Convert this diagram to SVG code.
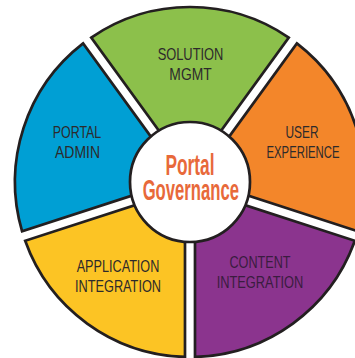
<svg xmlns="http://www.w3.org/2000/svg" width="355" height="358" viewBox="0 0 355 358">
<style>
.seg{stroke:#231f20;stroke-width:2.7;stroke-linejoin:miter}
.lbl{font-family:"Liberation Sans Narrow","Liberation Sans",Arial,sans-serif;font-size:16.5px;fill:#2d2a2b;text-anchor:middle}
.lbl.dk{fill:#3a1c3f}
.title{font-family:"Liberation Sans Narrow","Liberation Sans",Arial,sans-serif;font-weight:bold;font-size:29px;fill:#e8693a;text-anchor:middle}
.hub{fill:#ffffff;stroke:#231f20;stroke-width:2.7}
</style>
<defs>
<path id="wedge" d="M0,-8.5 L-98.77,-144.46 A175,175 0 0 1 98.77,-144.46 Z"/>
</defs>
<rect width="355" height="358" fill="#ffffff"/>
<g id="solution-mgmt">
<use href="#wedge" class="seg" fill="#8cc04b" transform="translate(190,182)"/>
<text class="lbl" x="190.5" y="59.5" textLength="65.7" lengthAdjust="spacingAndGlyphs">SOLUTION</text>
<text class="lbl" x="190.5" y="80" textLength="42.3" lengthAdjust="spacingAndGlyphs">MGMT</text>
</g>
<g id="user-experience">
<use href="#wedge" class="seg" fill="#f3862a" transform="translate(190,182) rotate(72)"/>
<text class="lbl" x="302" y="138" textLength="33" lengthAdjust="spacingAndGlyphs">USER</text>
<text class="lbl" x="303" y="158" textLength="73" lengthAdjust="spacingAndGlyphs">EXPERIENCE</text>
</g>
<g id="content-integration">
<use href="#wedge" class="seg" fill="#8b348e" transform="translate(190,182) rotate(144)"/>
<text class="lbl dk" x="260" y="267.5" textLength="61" lengthAdjust="spacingAndGlyphs">CONTENT</text>
<text class="lbl dk" x="260" y="288" textLength="86.7" lengthAdjust="spacingAndGlyphs">INTEGRATION</text>
</g>
<g id="application-integration">
<use href="#wedge" class="seg" fill="#fcc424" transform="translate(190,182) rotate(216)"/>
<text class="lbl" x="118" y="271.5" textLength="82.7" lengthAdjust="spacingAndGlyphs">APPLICATION</text>
<text class="lbl" x="118" y="291.5" textLength="86" lengthAdjust="spacingAndGlyphs">INTEGRATION</text>
</g>
<g id="portal-admin">
<use href="#wedge" class="seg" fill="#009fd4" transform="translate(190,182) rotate(288)"/>
<text class="lbl" x="77" y="138" textLength="48.6" lengthAdjust="spacingAndGlyphs">PORTAL</text>
<text class="lbl" x="77.5" y="158" textLength="45" lengthAdjust="spacingAndGlyphs">ADMIN</text>
</g>
<g id="portal-governance">
<circle class="hub" cx="190" cy="182" r="60"/>
<text class="title" x="190" y="175" textLength="49" lengthAdjust="spacingAndGlyphs">Portal</text>
<text class="title" x="190.8" y="200" textLength="96.3" lengthAdjust="spacingAndGlyphs">Governance</text>
</g>
</svg>
